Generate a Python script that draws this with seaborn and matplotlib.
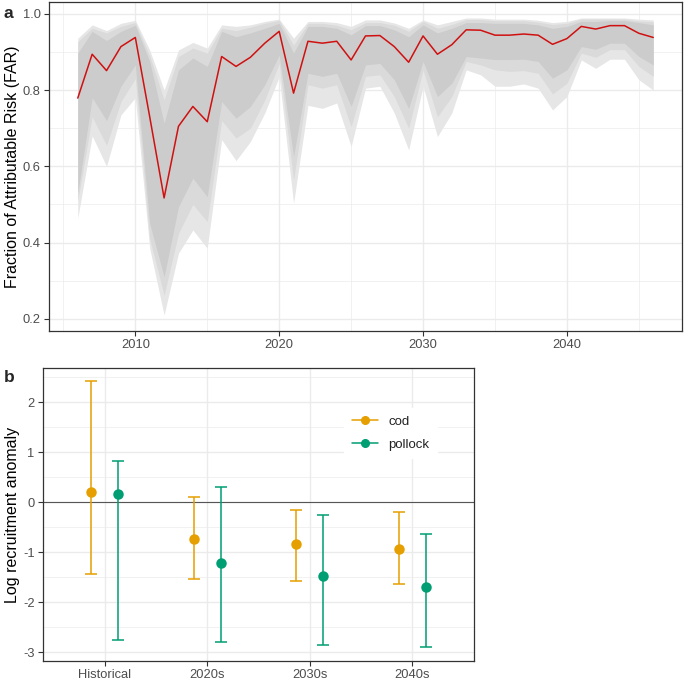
import numpy as np
import pandas as pd
import matplotlib
matplotlib.use("Agg")
import matplotlib.pyplot as plt
from matplotlib.lines import Line2D
import seaborn as sns

# ---------------- data: panel a ----------------
years = list(range(2006, 2047))
far_median = [0.779, 0.894, 0.851, 0.914, 0.938, 0.73, 0.517, 0.705, 0.757, 0.717,
              0.888, 0.862, 0.886, 0.923, 0.954, 0.792, 0.928, 0.923, 0.928, 0.879,
              0.942, 0.943, 0.914, 0.873, 0.942, 0.894, 0.919, 0.958, 0.957, 0.944,
              0.944, 0.947, 0.944, 0.920, 0.935, 0.967, 0.960, 0.969, 0.969, 0.949, 0.938]
outer_hi = [0.936, 0.971, 0.956, 0.975, 0.983, 0.905, 0.800, 0.905, 0.925, 0.910,
            0.971, 0.967, 0.971, 0.980, 0.986, 0.936, 0.980, 0.980, 0.977, 0.967,
            0.984, 0.984, 0.976, 0.962, 0.984, 0.971, 0.980, 0.989, 0.989, 0.986,
            0.986, 0.986, 0.983, 0.977, 0.980, 0.989, 0.989, 0.989, 0.989, 0.986, 0.984]
mid_hi = [0.927, 0.962, 0.950, 0.967, 0.977, 0.890, 0.774, 0.888, 0.910, 0.897,
          0.962, 0.956, 0.965, 0.975, 0.983, 0.918, 0.975, 0.975, 0.970, 0.958,
          0.977, 0.977, 0.970, 0.954, 0.980, 0.962, 0.972, 0.985, 0.985, 0.982,
          0.982, 0.982, 0.978, 0.972, 0.975, 0.986, 0.986, 0.986, 0.986, 0.981, 0.979]
inner_hi = [0.897, 0.954, 0.930, 0.954, 0.970, 0.875, 0.713, 0.853, 0.884, 0.862,
            0.954, 0.940, 0.950, 0.962, 0.975, 0.897, 0.967, 0.967, 0.962, 0.945,
            0.969, 0.969, 0.958, 0.940, 0.971, 0.950, 0.962, 0.977, 0.977, 0.975,
            0.975, 0.975, 0.971, 0.962, 0.967, 0.980, 0.980, 0.982, 0.982, 0.977, 0.971]
inner_lo = [0.530, 0.780, 0.720, 0.810, 0.866, 0.450, 0.310, 0.494, 0.569, 0.520,
            0.770, 0.726, 0.757, 0.814, 0.892, 0.626, 0.844, 0.836, 0.844, 0.757,
            0.866, 0.870, 0.827, 0.752, 0.875, 0.783, 0.818, 0.888, 0.884, 0.880,
            0.880, 0.881, 0.875, 0.831, 0.853, 0.914, 0.907, 0.923, 0.923, 0.888, 0.866]
mid_lo = [0.510, 0.730, 0.655, 0.770, 0.830, 0.410, 0.262, 0.424, 0.500, 0.455,
          0.720, 0.674, 0.700, 0.774, 0.870, 0.564, 0.814, 0.805, 0.814, 0.704,
          0.836, 0.840, 0.783, 0.700, 0.853, 0.730, 0.783, 0.875, 0.866, 0.853,
          0.849, 0.851, 0.844, 0.790, 0.818, 0.897, 0.886, 0.906, 0.906, 0.862, 0.836]
outer_lo = [0.464, 0.680, 0.600, 0.735, 0.780, 0.385, 0.210, 0.372, 0.433, 0.385,
            0.670, 0.615, 0.665, 0.740, 0.835, 0.503, 0.760, 0.752, 0.766, 0.652,
            0.805, 0.810, 0.740, 0.643, 0.810, 0.678, 0.740, 0.853, 0.840, 0.810,
            0.810, 0.816, 0.805, 0.748, 0.783, 0.879, 0.857, 0.881, 0.881, 0.827, 0.800]

# ---------------- data: panel b ----------------
periods = ["Historical", "2020s", "2030s", "2040s"]
species = ["cod", "pollock"]
cod_mean = [0.20, -0.74, -0.84, -0.93]
cod_lo = [-1.43, -1.53, -1.57, -1.63]
cod_hi = [2.43, 0.11, -0.15, -0.20]
pol_mean = [0.16, -1.21, -1.47, -1.70]
pol_lo = [-2.75, -2.80, -2.85, -2.90]
pol_hi = [0.82, 0.30, -0.25, -0.64]

colors = {"cod": "#E69F00", "pollock": "#009E73"}

sns.set_theme(style="white")
plt.rcParams["font.family"] = ["Liberation Sans", "DejaVu Sans"]
plt.rcParams["axes.unicode_minus"] = False

fig = plt.figure(figsize=(6.85, 6.8), dpi=100)
W, H = 685, 680
def rect(l, t, r, b):
    return [l / W, 1 - b / H, (r - l) / W, (b - t) / H]

ax1 = fig.add_axes(rect(49, 2, 682, 331))
ax2 = fig.add_axes(rect(43, 368, 474, 661))

grid_c = "#EBEBEB"
tick_c = "#4D4D4D"

def style_axes(ax):
    ax.set_facecolor("white")
    for s in ax.spines.values():
        s.set_color("#333333")
        s.set_linewidth(0.9)
        s.set_visible(True)
    ax.tick_params(axis="both", which="major", length=3.5, width=0.8, color="#333333",
                   labelcolor=tick_c, labelsize=9.3, pad=2.5, direction="out",
                   bottom=True, left=True)
    ax.tick_params(axis="both", which="minor", length=0)
    ax.grid(True, which="major", color=grid_c, linewidth=1.0, zorder=0)
    ax.grid(True, which="minor", color=grid_c, linewidth=0.5, zorder=0)
    ax.set_axisbelow(True)

# ---------------- panel a ----------------
df_a = pd.DataFrame({"year": years, "far": far_median})
ax1.fill_between(years, outer_lo, outer_hi, color="#E6E6E6", linewidth=0, zorder=1)
ax1.fill_between(years, mid_lo, mid_hi, color="#DADADA", linewidth=0, zorder=1.1)
ax1.fill_between(years, inner_lo, inner_hi, color="#CCCCCC", linewidth=0, zorder=1.2)
sns.lineplot(data=df_a, x="year", y="far", color="#D01010", linewidth=1.1, ax=ax1, zorder=3)
ax1.set_xlim(2004, 2048)
ax1.set_ylim(0.168, 1.031)
ax1.set_xticks([2010, 2020, 2030, 2040])
ax1.set_xticks([2005, 2015, 2025, 2035, 2045], minor=True)
ax1.set_yticks([0.2, 0.4, 0.6, 0.8, 1.0])
ax1.set_yticklabels(["0.2", "0.4", "0.6", "0.8", "1.0"])
ax1.set_yticks([0.3, 0.5, 0.7, 0.9], minor=True)
style_axes(ax1)
ax1.set_xlabel("")
ax1.set_ylabel("Fraction of Attributable Risk (FAR)", fontsize=11.5, color="black")
ax1.yaxis.set_label_coords((20 - 49) / 633, 0.5)

# ---------------- panel b ----------------
rows = []
for i, p in enumerate(periods):
    rows.append({"period": p, "species": "cod", "mean": cod_mean[i], "lo": cod_lo[i], "hi": cod_hi[i]})
    rows.append({"period": p, "species": "pollock", "mean": pol_mean[i], "lo": pol_lo[i], "hi": pol_hi[i]})
df_b = pd.DataFrame(rows)

dodge = 0.26
ax2.axhline(0, color="#555555", linewidth=0.8, zorder=1)
offsets = {"cod": -dodge / 2, "pollock": dodge / 2}
for sp in species:
    sub = df_b[df_b["species"] == sp]
    xs = np.array([periods.index(p) for p in sub["period"]]) + offsets[sp]
    ax2.errorbar(xs, sub["mean"], yerr=[sub["mean"] - sub["lo"], sub["hi"] - sub["mean"]],
                 fmt="none", ecolor=colors[sp], elinewidth=1.1, capsize=4, capthick=1.1, zorder=2)
sns.pointplot(data=df_b, x="period", y="mean", hue="species", order=periods,
              hue_order=species, palette=colors, dodge=dodge, linestyle="none",
              errorbar=None, markers="o", markersize=5.5, ax=ax2, zorder=3)
ax2.set_xlim(-0.6, 3.6)
ax2.set_ylim(-3.17, 2.68)
ax2.set_yticks([-3, -2, -1, 0, 1, 2])
ax2.set_yticklabels(["-3", "-2", "-1", "0", "1", "2"])
ax2.set_yticks([-2.5, -1.5, -0.5, 0.5, 1.5, 2.5], minor=True)
style_axes(ax2)
ax2.set_xlabel("")
ax2.set_ylabel("Log recruitment anomaly", fontsize=11.5, color="black")
ax2.yaxis.set_label_coords((20 - 43) / 431, 0.5)

if ax2.get_legend() is not None:
    ax2.get_legend().remove()
handles = [Line2D([0], [0], color=colors[s], marker="o", markersize=5.5, linewidth=1.1) for s in species]
leg = ax2.legend(handles, species, loc="upper left", bbox_to_anchor=((337 - 43) / 431, 1 - (401 - 368) / 293),
                 frameon=True, fancybox=False, edgecolor="white", facecolor="white", framealpha=1,
                 fontsize=9.5, handlelength=2.0, handletextpad=0.8, labelspacing=0.8,
                 borderpad=0.6)
for t in leg.get_texts():
    t.set_color("#222222")

fig.text(4 / W, 1 - 13 / H, "a", fontsize=12.5, fontweight="bold", va="center", ha="left")
fig.text(4 / W, 1 - 377 / H, "b", fontsize=12.5, fontweight="bold", va="center", ha="left")

fig.savefig("out.png", dpi=100, facecolor="white")
